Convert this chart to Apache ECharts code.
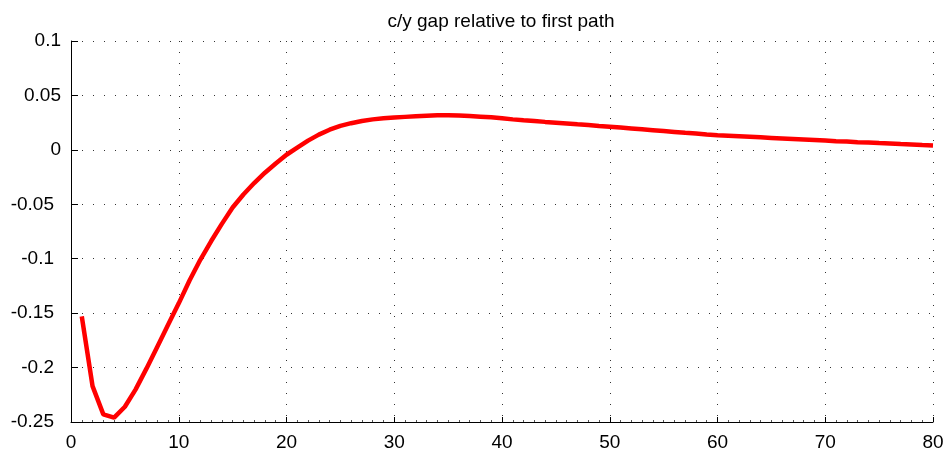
<!DOCTYPE html>
<html>
<head>
<meta charset="utf-8">
<script src="https://cdn.jsdelivr.net/npm/echarts@6/dist/echarts.min.js"></script>
<style>html,body{margin:0;padding:0;background:#fff}#c{width:952px;height:460px}</style>
</head>
<body>
<div id="c"></div>
<script>
const titleText = 'c/y gap relative to first path';
const periods = [];
for (let i = 1; i <= 80; i++) periods.push(i);
const gapValues = [
  -0.153, -0.217, -0.243, -0.246, -0.236, -0.220, -0.201, -0.181, -0.161, -0.141,
  -0.120, -0.101, -0.084, -0.068, -0.053, -0.041, -0.0305, -0.021, -0.0125, -0.0045,
   0.002,  0.0085, 0.014,  0.0185, 0.022,  0.0245, 0.0265, 0.028,  0.029,  0.0297,
   0.0303, 0.0309, 0.0314, 0.0317, 0.0318, 0.0315, 0.031,  0.0305, 0.030,  0.029,
   0.028,  0.0272, 0.0265, 0.0257, 0.025,  0.0243, 0.0235, 0.0228, 0.022,  0.0213,
   0.0205, 0.0197, 0.0189, 0.0181, 0.0173, 0.0165, 0.0157, 0.015,  0.0142, 0.0135,
   0.013,  0.0125, 0.012,  0.0115, 0.011,  0.0105, 0.010,  0.0095, 0.009,  0.0085,
   0.008,  0.0076, 0.0071, 0.0067, 0.0062, 0.0058, 0.0053, 0.0049, 0.0044, 0.004
];
const yTickLabels = { '0.1':'0.1','0.05':'0.05','0':'0','-0.05':'-0.05','-0.1':'-0.1','-0.15':'-0.15','-0.2':'-0.2','-0.25':'-0.25' };

const font = '"Liberation Sans", Arial, sans-serif';
const chart = echarts.init(document.getElementById('c'), null, { renderer: 'canvas' });
const dotted = { type: [1, 10], color: '#333', width: 1 };
chart.setOption({
  animation: false,
  title: {
    text: titleText, left: 496, top: 7, textAlign: 'center',
    textStyle: { fontFamily: font, fontSize: 19, fontWeight: 'normal', color: '#000' }
  },
  grid: { left: 71, right: 19, top: 41, bottom: 38, containLabel: false },
  xAxis: {
    type: 'value', min: 0, max: 80, interval: 10,
    axisLine: { show: true, onZero: false, lineStyle: { color: '#000', width: 1 } },
    axisTick: { show: true, inside: true, length: 5, lineStyle: { color: '#000' } },
    minorTick: { show: true, splitNumber: 10, length: 2, lineStyle: { color: '#555' } },
    axisLabel: { fontFamily: font, fontSize: 19, color: '#000', margin: 11 },
    splitLine: { show: true, lineStyle: dotted }
  },
  yAxis: {
    type: 'value', min: -0.25, max: 0.1, interval: 0.05,
    axisLine: { show: true, onZero: false, lineStyle: { color: '#000', width: 1 } },
    axisTick: { show: true, inside: true, length: 7, lineStyle: { color: '#000' } },
    axisLabel: {
      fontFamily: font, fontSize: 19, color: '#000', margin: 10,
      formatter: v => {
        const k = String(Math.round(v * 100) / 100);
        const t = yTickLabels[k] !== undefined ? yTickLabels[k] : k;
        return v < 0 ? '{n|' + t + '}' : t;
      },
      rich: { n: { fontFamily: font, fontSize: 19, color: '#000', padding: [0, 7, 0, 0] } }
    },
    splitLine: { show: true, lineStyle: dotted }
  },
  series: [{
    type: 'line',
    data: periods.map((p, i) => [p, gapValues[i]]),
    showSymbol: false,
    lineStyle: { color: '#ff0000', width: 4.5 },
    itemStyle: { color: '#ff0000' }
  }]
});
</script>
</body>
</html>
